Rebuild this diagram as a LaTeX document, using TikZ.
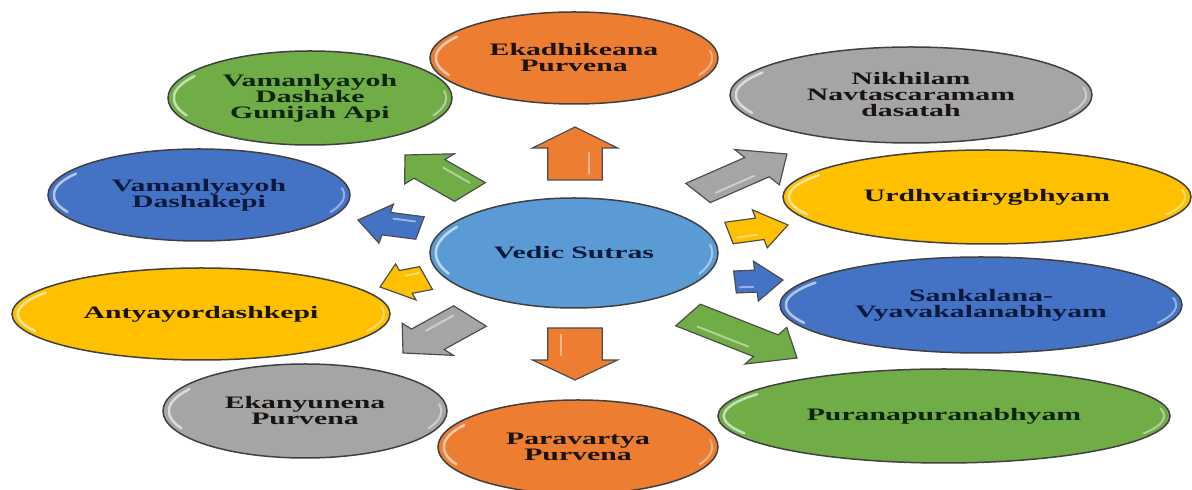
\documentclass[tikz,border=0pt]{standalone}
\usepackage{fontspec}
\setmainfont{Liberation Serif}
\newfontfamily\lblfont[FakeStretch=1.7]{Liberation Serif}
\usetikzlibrary{shapes.geometric,calc}
\definecolor{cOrange}{HTML}{ED7D31}
\definecolor{cGreen}{HTML}{70AD47}
\definecolor{cGray}{HTML}{A5A5A5}
\definecolor{cYellow}{HTML}{FFC000}
\definecolor{cBlue}{HTML}{4472C4}
\definecolor{cLight}{HTML}{5B9BD5}
\definecolor{tNavy}{HTML}{0B1A3C}
\definecolor{tGreen}{HTML}{0C2408}
\definecolor{tDark}{HTML}{1A1410}
\def\sk{1.7}
\tikzset{
  ell/.style={ellipse, draw=black!75, line width=0.9pt, inner sep=0pt, align=center,
    text=tDark, font=\lblfont\bfseries\fontsize{10.5}{9.6}\selectfont,
    path picture={
      \draw[white, opacity=0.6, line width=1.5pt, line cap=round]
        let \p1=(path picture bounding box.north east),
            \p2=(path picture bounding box.center),
            \n1={\x1-\x2-3.5pt}, \n2={\y1-\y2-3.5pt} in
        ($(\p2)+(148:\n1 and \n2)$) arc[start angle=148, end angle=205, x radius=\n1, y radius=\n2];
      \draw[white, opacity=0.45, line width=1.2pt, line cap=round]
        let \p1=(path picture bounding box.north east),
            \p2=(path picture bounding box.center),
            \n1={\x1-\x2-3.5pt}, \n2={\y1-\y2-3.5pt} in
        ($(\p2)+(-25:\n1 and \n2)$) arc[start angle=-25, end angle=10, x radius=\n1, y radius=\n2];
    }},
  blockarrow/.style={draw=black!70, line width=0.7pt, line join=miter}
}
% #1 name, #2 #3 tail middle, #4 #5 tip, #6 shaft half width, #7 head half width, #8 head length, #9 colour
\newcommand\barrow[9]{%
  \pgfmathsetmacro\du{(#4-#2)/\sk}%
  \pgfmathsetmacro\dv{#5-#3}%
  \pgfmathsetmacro\LL{veclen(\du,\dv)}%
  \pgfmathsetmacro\ex{\du/\LL}%
  \pgfmathsetmacro\ey{\dv/\LL}%
  \pgfmathsetmacro\nsx{-\ey*#6*\sk}\pgfmathsetmacro\nsy{\ex*#6}%
  \pgfmathsetmacro\msx{\ey*#6*\sk}\pgfmathsetmacro\msy{-\ex*#6}%
  \pgfmathsetmacro\nhx{-\ey*#7*\sk}\pgfmathsetmacro\nhy{\ex*#7}%
  \pgfmathsetmacro\mhx{\ey*#7*\sk}\pgfmathsetmacro\mhy{-\ex*#7}%
  \pgfmathsetmacro\hx{#4-\ex*#8*\sk}\pgfmathsetmacro\hy{#5-\ey*#8}%
  \coordinate (#1-tail) at (#2,#3);
  \coordinate (#1-tip) at (#4,#5);
  \coordinate (#1-head) at (\hx,\hy);
  \filldraw[blockarrow, fill=#9]
    ($(#1-tail)+(\nsx,\nsy)$) -- ($(#1-head)+(\nsx,\nsy)$) -- ($(#1-head)+(\nhx,\nhy)$)
    -- (#1-tip) -- ($(#1-head)+(\mhx,\mhy)$) -- ($(#1-head)+(\msx,\msy)$)
    -- ($(#1-tail)+(\msx,\msy)$) -- cycle;
  \draw[white, opacity=0.45, line width=1.2pt, line cap=round]
    ($(#1-tail)!0.2!(#1-head)+(0.5*\nsx,0.5*\nsy)$) -- ($(#1-tail)!0.85!(#1-head)+(0.5*\nsx,0.5*\nsy)$);
}
\begin{document}
\begin{tikzpicture}[x=0.6pt, y=-0.6pt]
  \fill[white] (0,0) rectangle (1192,490);
  \useasboundingbox (0,0) rectangle (1192,490);

  % central node
  \node[ell, fill=cLight, text=tNavy, minimum width=172.8pt, minimum height=66pt] (vedic) at (574,253) {Vedic Sutras};

  % surrounding nodes
  \node[ell, fill=cOrange, minimum width=172.8pt, minimum height=55.2pt] (ekad) at (574,58) {Ekadhikeana\\Purvena};
  \node[ell, fill=cGreen, text=tGreen, minimum width=170.4pt, minimum height=56.4pt] (vdga) at (310,98) {Vamanlyayoh\\Dashake\\Gunijah Api};
  \node[ell, fill=cGray, minimum width=217.2pt, minimum height=57.6pt] (nikh) at (911,95) {Nikhilam\\Navtascaramam\\dasatah};
  \node[ell, fill=cYellow, minimum width=244.8pt, minimum height=56.4pt] (urdh) at (987,197) {Urdhvatirygbhyam};
  \node[ell, fill=cBlue, text=tNavy, minimum width=181.2pt, minimum height=55.2pt] (vdk) at (199,195) {Vamanlyayoh\\Dashakepi};
  \node[ell, fill=cYellow, minimum width=226.8pt, minimum height=55.2pt] (anty) at (201,314) {Antyayordashkepi};
  \node[ell, fill=cBlue, text=tNavy, minimum width=241.2pt, minimum height=57.6pt] (sank) at (981,305) {Sankalana-\\Vyavakalanabhyam};
  \node[ell, fill=cGreen, text=tGreen, minimum width=271.2pt, minimum height=56.4pt] (pura) at (944,416) {Puranapuranabhyam};
  \node[ell, fill=cGray, minimum width=170.4pt, minimum height=56.4pt] (ekan) at (305,411) {Ekanyunena\\Purvena};
  \node[ell, fill=cOrange, minimum width=168pt, minimum height=56.4pt] (para) at (578,447) {Paravartya\\Purvena};

  % block arrows
  \barrow{oup}{575}{180}{575}{127}{16}{25}{21}{cOrange}
  \barrow{odn}{575}{328}{575}{380}{16}{25}{20}{cOrange}
  \barrow{gne}{698}{193}{787}{154}{12}{22}{22}{cGray}
  \barrow{gnw}{470}{192}{405}{155}{13}{21}{20}{cGreen}
  \barrow{bw}{420}{228}{358}{220}{11.5}{20}{17}{cBlue}
  \barrow{yw}{426}{278}{380}{287}{12}{19}{16}{cYellow}
  \barrow{gsw}{470}{316}{403}{353}{14}{22}{20}{cGray}
  \barrow{ye}{729}{233}{788}{225}{11}{19.5}{17}{cYellow}
  \barrow{be}{735}{282}{783}{280}{11}{20}{16}{cBlue}
  \barrow{gse}{688}{315}{797}{358}{13}{22}{22}{cGreen}
\end{tikzpicture}
\end{document}
